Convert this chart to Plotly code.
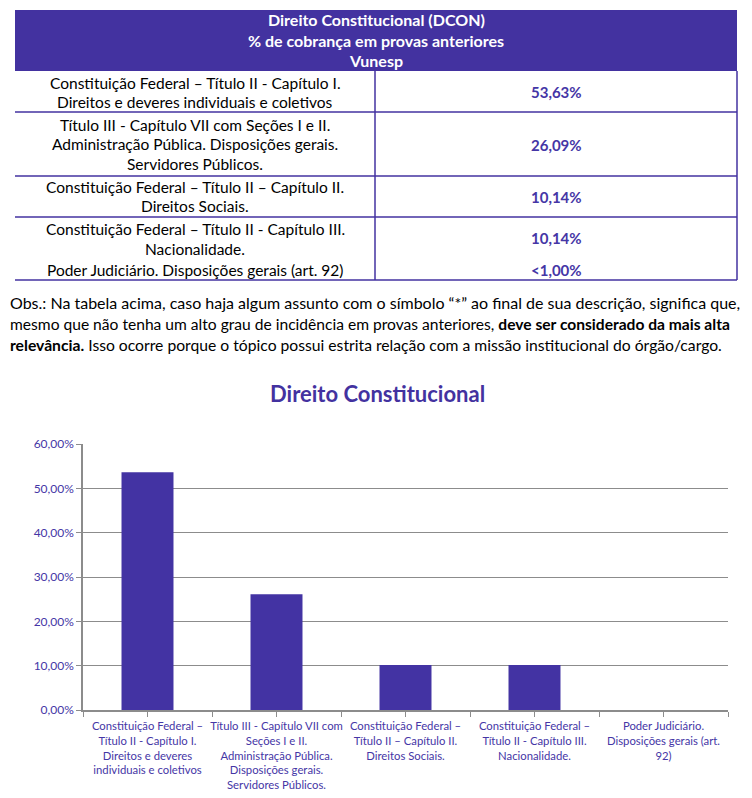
import plotly.graph_objects as go

# ---------------- data ----------------
categories = [
    "Constituição Federal –<br>Título II - Capítulo I.<br>Direitos e deveres<br>individuais e coletivos",
    "Título III - Capítulo VII com<br>Seções I e II.<br>Administração Pública.<br>Disposições gerais.<br>Servidores Públicos.",
    "Constituição Federal –<br>Título II – Capítulo II.<br>Direitos Sociais.",
    "Constituição Federal –<br>Título II - Capítulo III.<br>Nacionalidade.",
    "Poder Judiciário.<br>Disposições gerais (art.<br>92)",
]
values = [53.63, 26.09, 10.14, 10.14, 0.0]
y_ticks = [0, 10, 20, 30, 40, 50, 60]

table_title = ["Direito Constitucional (DCON)", "% de cobrança em provas anteriores", "Vunesp"]
table_topics = [
    ["Constituição Federal – Título II - Capítulo I.", "Direitos e deveres individuais e coletivos"],
    ["Título III - Capítulo VII com Seções I e II.", "Administração Pública. Disposições gerais.", "Servidores Públicos."],
    ["Constituição Federal – Título II – Capítulo II.", "Direitos Sociais."],
    ["Constituição Federal – Título II - Capítulo III.", "Nacionalidade."],
    ["Poder Judiciário. Disposições gerais (art. 92)"],
]
table_pcts = ["53,63%", "26,09%", "10,14%", "10,14%", "<1,00%"]

obs_lines = [
    "Obs.: Na tabela acima, caso haja algum assunto com o símbolo “*” ao final de sua descrição, significa que,",
    "mesmo que não tenha um alto grau de incidência em provas anteriores, <b>deve ser considerado da mais alta</b>",
    "<b>relevância.</b> Isso ocorre porque o tópico possui estrita relação com a missão institucional do órgão/cargo.",
]

chart_title = "Direito Constitucional"

# ---------------- styles ----------------
OFF = 8  # browser body margin
W, H = 752 - OFF, 798 - OFF
PL, PR, PT, PB = 83, 728, 444, 710  # plot area in reference pixels
ML, MR, MT = PL - OFF, W - (PR - OFF), PT - OFF
MB = H - (PB - OFF)
PW, PH = PR - PL, PB - PT
PURPLE = "#4332A0"
BAR = "#4333A3"
TXT_PURPLE = "#4536A6"
GRID = "#8C8C8C"
TFONT = "Lato"
CFONT = "Lato"
OBS_SIZES = [16.0, 15.6, 15.7]


def px(x):
    return (x - PL) / PW


def py(y):
    return (PB - y) / PH


fig = go.Figure()
fig.add_trace(go.Bar(
    x=list(range(len(categories))), y=values,
    marker=dict(color=BAR, line=dict(width=0)),
    width=0.403, hoverinfo="skip",
))

tickvals, ticktext = [], []
for i, c in enumerate(categories):
    tickvals += [i - 0.5, i]
    ticktext += ["", c]
tickvals.append(len(categories) - 0.5)
ticktext.append("")

y_ticktext = [f"{v:.2f}".replace(".", ",") + "%" for v in y_ticks]

shapes = []
annotations = []

# ---- table ----
TL, TR, TC = 15, 737, 375
shapes.append(dict(type="rect", xref="paper", yref="paper",
                   x0=px(TL), x1=px(TR), y0=py(71), y1=py(10),
                   fillcolor=PURPLE, line=dict(width=0), layer="above"))
for t, yy in zip(table_title, [20, 40, 60]):
    annotations.append(dict(text="<b>" + t + "</b>", xref="paper", yref="paper",
                            x=px((TL + TR) / 2), y=py(yy), showarrow=False,
                            xanchor="center", yanchor="middle",
                            font=dict(family=TFONT, size=16, color="white")))
row_lines = [112, 176, 217, 280]
for yy in row_lines:
    shapes.append(dict(type="line", xref="paper", yref="paper",
                       x0=px(TL), x1=px(TR), y0=py(yy), y1=py(yy),
                       line=dict(color=PURPLE, width=1.5)))
for xx in [TC, TR]:
    shapes.append(dict(type="line", xref="paper", yref="paper",
                       x0=px(xx), x1=px(xx), y0=py(71), y1=py(280),
                       line=dict(color=PURPLE, width=1.5)))
topic_line_y = [[83, 102], [125, 144, 164], [187, 206], [229, 249], [270]]
pct_y = [92.5, 144.5, 196.5, 238, 270]
for lines, ys, p, pyy in zip(table_topics, topic_line_y, table_pcts, pct_y):
    for t, ty in zip(lines, ys):
        annotations.append(dict(text=t, xref="paper", yref="paper",
                                x=px((TL + TC) / 2), y=py(ty), showarrow=False,
                                xanchor="center", yanchor="middle",
                                font=dict(family=TFONT, size=15.5, color="black")))
    annotations.append(dict(text="<b>" + p + "</b>", xref="paper", yref="paper",
                            x=px((TC + TR) / 2), y=py(pyy), showarrow=False,
                            xanchor="center", yanchor="middle",
                            font=dict(family=TFONT, size=15, color=TXT_PURPLE)))

for t, yy, sz in zip(obs_lines, [302, 323.5, 345], OBS_SIZES):
    annotations.append(dict(text=t, xref="paper", yref="paper",
                            x=px(8), y=py(yy), showarrow=False,
                            xanchor="left", yanchor="middle", align="left",
                            font=dict(family=TFONT, size=sz, color="black")))

annotations.append(dict(text="<b>" + chart_title + "</b>", xref="paper", yref="paper",
                        x=px(377), y=py(393), showarrow=False,
                        xanchor="center", yanchor="middle",
                        font=dict(family=CFONT, size=22, color=PURPLE)))

fig.update_layout(
    width=W, height=H,
    margin=dict(l=ML, r=MR, t=MT, b=MB, pad=0, autoexpand=False),
    paper_bgcolor="white", plot_bgcolor="white",
    showlegend=False,
    shapes=shapes, annotations=annotations,
    xaxis=dict(range=[-0.5, len(categories) - 0.5], tickvals=tickvals, ticktext=ticktext,
               ticks="outside", ticklen=5, tickcolor=GRID, tickwidth=1,
               showline=True, linecolor=GRID, linewidth=1.5, showgrid=False,
               zeroline=False, tickangle=0, automargin=False,
               tickfont=dict(family=CFONT, size=11.3, color=TXT_PURPLE)),
    yaxis=dict(range=[0, 60], tickvals=y_ticks, ticktext=y_ticktext,
               ticks="outside", ticklen=5, tickcolor=GRID, tickwidth=1,
               showline=True, linecolor=GRID, linewidth=1.5,
               showgrid=True, gridcolor=GRID, gridwidth=1, zeroline=False,
               automargin=False,
               tickfont=dict(family=CFONT, size=12, color=TXT_PURPLE)),
)

fig.write_html("out.html")
